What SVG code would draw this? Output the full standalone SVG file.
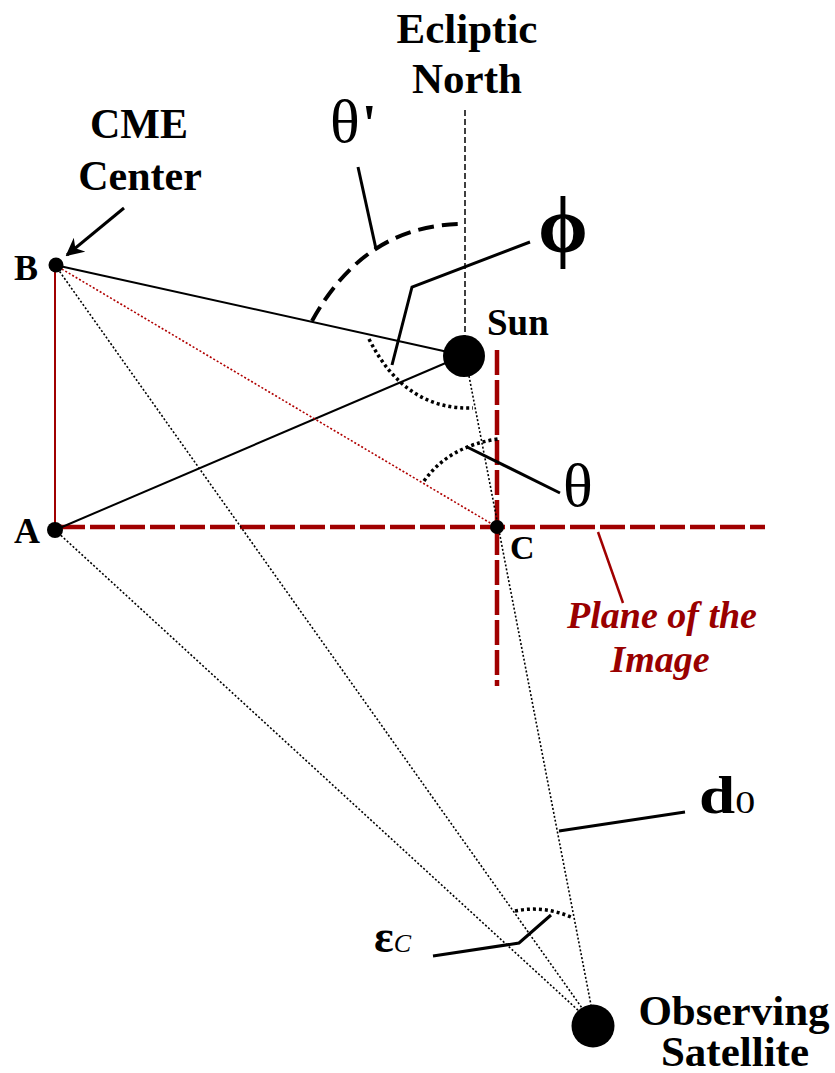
<svg xmlns="http://www.w3.org/2000/svg" width="835" height="1073" viewBox="0 0 835 1073">
<style>
.t{font-family:"Liberation Serif","Times New Roman",serif;fill:#000}
.b{font-weight:bold}
.red{fill:#990000;font-weight:bold;font-style:italic}
.solid{stroke:#000;stroke-width:2;fill:none}
.lead{stroke:#000;stroke-width:3;fill:none}
.dot{stroke:#000;stroke-width:1.6;stroke-dasharray:2 2;fill:none}
.dotr{stroke:#b00000;stroke-width:1.6;stroke-dasharray:2 2;fill:none}
.arcdot{stroke:#000;stroke-width:3.5;stroke-dasharray:3 3;fill:none}
.rdash{stroke:#a00000;stroke-width:4.5;stroke-dasharray:25 5;fill:none}
.node{fill:#000}
</style>
<defs>
<marker id="arr" viewBox="0 0 10 10" refX="9" refY="5" markerWidth="6" markerHeight="6" orient="auto" markerUnits="strokeWidth">
<path d="M0,0 L10,5 L0,10 L3,5 Z" fill="#000"/>
</marker>
</defs>
<g id="connectors">
<line x1="465" y1="110" x2="465" y2="336" stroke="#000" stroke-width="1.5" stroke-dasharray="6 3"/>
<line class="rdash" x1="60" y1="527" x2="765" y2="527"/>
<line class="rdash" x1="497" y1="350" x2="497" y2="686"/>
<line x1="55" y1="265" x2="55" y2="530" stroke="#a00000" stroke-width="2"/>
<line class="solid" x1="55" y1="265" x2="448" y2="352"/>
<line class="solid" x1="55" y1="530" x2="448" y2="362"/>
<line class="dotr" x1="55" y1="265" x2="497" y2="527"/>
<line class="dot" x1="55" y1="265" x2="582" y2="1008"/>
<line class="dot" x1="55" y1="530" x2="580" y2="1012"/>
<line class="dot" x1="469" y1="376" x2="591" y2="1005"/>
<path d="M312 321 Q365.5 223.5 465 224" stroke="#000" stroke-width="4" stroke-dasharray="16 8" fill="none"/>
<path class="arcdot" d="M369 339 Q405 410.5 473 408"/>
<path class="arcdot" d="M424 481 Q449 446 498 439"/>
<path class="arcdot" d="M515 911 Q545 905 573 918"/>
<line class="lead" x1="358" y1="167" x2="376" y2="249"/>
<polyline class="lead" points="530,242 412,287 392,365"/>
<line class="lead" x1="467" y1="447" x2="560" y2="493"/>
<line class="lead" x1="559" y1="831" x2="685" y2="812"/>
<polyline class="lead" points="433,956 519,943 551,915"/>
<line x1="598" y1="532" x2="623" y2="603" stroke="#a00000" stroke-width="2.5"/>
<line x1="124" y1="208" x2="67" y2="255" stroke="#000" stroke-width="3" marker-end="url(#arr)"/>
</g>
<g id="node-ecliptic-north">
<text class="t b" x="467" y="43" font-size="43" text-anchor="middle">Ecliptic</text>
<text class="t b" x="467" y="93" font-size="43" text-anchor="middle">North</text>
</g>
<g id="node-cme-label">
<text class="t b" x="139" y="138" font-size="42" text-anchor="middle">CME</text>
<text class="t b" x="140" y="190" font-size="42" text-anchor="middle">Center</text>
</g>
<g id="node-B">
<circle class="node" cx="56" cy="265" r="7.5"/>
<text class="t b" x="14" y="280" font-size="36">B</text>
</g>
<g id="node-A">
<circle class="node" cx="55" cy="530" r="8"/>
<text class="t b" x="14" y="543" font-size="36">A</text>
</g>
<g id="node-sun">
<circle class="node" cx="464" cy="356" r="21"/>
<text class="t b" x="487" y="335" font-size="37">Sun</text>
</g>
<g id="node-C">
<circle class="node" cx="497" cy="527" r="7"/>
<text class="t b" x="510" y="559" font-size="34">C</text>
</g>
<g id="node-satellite">
<circle class="node" cx="593" cy="1026" r="21.5"/>
<text class="t b" x="734" y="1025" font-size="43" text-anchor="middle">Observing</text>
<text class="t b" x="735" y="1066" font-size="43" text-anchor="middle">Satellite</text>
</g>
<g id="labels">
<text class="t" x="330" y="142" font-size="62">θ<tspan font-weight="bold" font-size="54" dx="2">'</tspan></text>
<text class="t b" x="538" y="252" font-size="80" font-family="'Liberation Serif','DejaVu Serif',serif">ϕ</text>
<text class="t" x="563" y="506" font-size="62">θ</text>
<text class="t red" x="662" y="628" font-size="38" text-anchor="middle">Plane of the</text>
<text class="t red" x="660" y="672" font-size="38" text-anchor="middle">Image</text>
<text class="t" transform="translate(699 813) scale(1.25 1)" x="0" y="0"><tspan font-size="52" font-weight="bold">d</tspan><tspan font-size="32">0</tspan></text>
<text class="t" x="374" y="952"><tspan font-size="46" font-weight="bold">ε</tspan><tspan font-size="26" font-style="italic">C</tspan></text>
</g>
</svg>
